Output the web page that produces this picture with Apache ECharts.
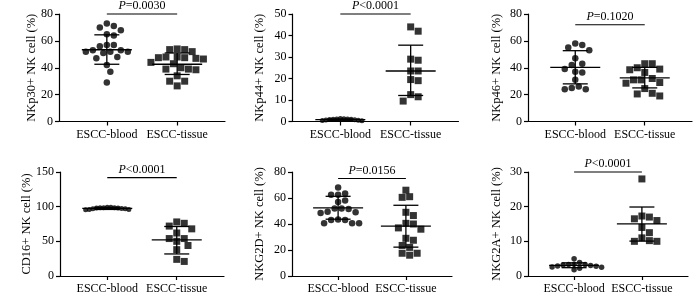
<!DOCTYPE html>
<html>
<head>
<meta charset="utf-8">
<script src="https://cdn.jsdelivr.net/npm/echarts@6/dist/echarts.min.js"></script>
<style>
  html, body { margin: 0; padding: 0; background: #fff; }
  #main { width: 700px; height: 297px; }
</style>
</head>
<body>
<div id="main"></div>
<script>
// groups on the x axis
const groups = ['ESCC-blood', 'ESCC-tissue'];

// axis titles, p values, y ranges
const yNames = ['NKp30+ NK cell (%)', 'NKp44+ NK cell (%)', 'NKp46+ NK cell (%)',
                'CD16+ NK cell (%)', 'NKG2D+ NK cell (%)', 'NKG2A+ NK cell (%)'];
const pLabels = ['P=0.0030', 'P<0.0001', 'P=0.1020', 'P<0.0001', 'P=0.0156', 'P<0.0001'];
const pLevels = [80, 50, 72, 142, 75, 30];
const yMax = [80, 50, 80, 150, 80, 30];
const yStep = [20, 10, 20, 50, 20, 10];

// individual values
const nkp30Blood = [73, 71, 70, 68, 65, 64, 57, 56, 57, 53, 52, 52, 51, 52, 53, 48, 47, 42, 37, 29];
const nkp30Tissue = [54, 53.5, 53.5, 52, 48, 48, 47.5, 47.5, 47, 46.5, 44, 43, 40, 39, 39, 38.5, 34, 30, 30, 26.5];
const nkp44Blood = [1.3, 1.1, 1.2, 0.9, 0.6, 0.4, 0.5, 0.7, 1.0, 1.2, 1.4, 0.8];
const nkp44Tissue = [44, 42, 28.5, 29, 23.5, 23.5, 19, 19.5, 12.5, 11.5, 9.5];
const nkp46Blood = [58, 57, 55, 53, 47, 42, 43, 39, 36.5, 37, 31, 26, 24, 24, 25];
const nkp46Tissue = [43, 43, 39, 38.5, 40, 36.5, 31, 32, 31, 29, 28.5, 24.5, 20.5, 19, 21];
const cd16Blood = [99, 98.5, 98, 98.5, 97.5, 97, 96, 95.5, 96, 97, 98, 98.5, 99];
const cd16Tissue = [78, 76, 68, 72, 62, 54, 54, 50, 44, 38, 21, 24];
const nkg2dBlood = [68, 63.5, 62.5, 62.5, 58, 57, 52, 52, 51.5, 49, 49.5, 48.5, 43, 43, 43.5, 40.5, 40.5, 40.5];
const nkg2dTissue = [66, 61, 60.5, 49, 46.5, 40.5, 40, 37, 36, 29, 27.5, 23.5, 22, 17.5, 16, 17.5];
const nkg2aBlood = [5, 3.9, 3.4, 3.3, 3.2, 3.0, 2.9, 2.8, 2.6, 2.5, 2.2, 1.8, 3.3];
const nkg2aTissue = [28, 17, 17.3, 16, 16.5, 14, 12.5, 11, 10, 10, 10.2];

// mean, mean-SD, mean+SD per group
const nkp30Stats = [[53.4, 42.6, 64.5], [42.6, 35, 51]];
const nkp44Stats = [[0.9, 0.6, 1.2], [23.5, 12.1, 35.5]];
const nkp46Stats = [[40.3, 28, 52.7], [32.4, 25, 40.3]];
const cd16Stats = [[97.5, 96, 99], [52.1, 31.8, 71.4]];
const nkg2dStats = [[52.4, 43.7, 61.3], [38.3, 22.2, 54.4]];
const nkg2aStats = [[3.07, 2.4, 3.8], [15.05, 10.07, 19.9]];

const bloodSets = [nkp30Blood, nkp44Blood, nkp46Blood, cd16Blood, nkg2dBlood, nkg2aBlood];
const tissueSets = [nkp30Tissue, nkp44Tissue, nkp46Tissue, cd16Tissue, nkg2dTissue, nkg2aTissue];
const statSets = [nkp30Stats, nkp44Stats, nkp46Stats, cd16Stats, nkg2dStats, nkg2aStats];

// layout
const grids = [
  {left: 59, top: 14, width: 166, height: 107.5},
  {left: 292.5, top: 14, width: 166, height: 107.5},
  {left: 528, top: 14, width: 164, height: 107.5},
  {left: 60, top: 172, width: 164, height: 104},
  {left: 292, top: 172, width: 160, height: 104},
  {left: 528, top: 172, width: 160, height: 104}
];
const nameGaps = [20.5, 26, 25, 27, 25.5, 25];
const bloodGap = [7, 3.6, 7, 3.6, 7, 5.5];
const bloodSize = [6.5, 5, 6.5, 5, 6.5, 5.5];
const X_MIN = 0.32, X_MAX = 2.68;
const FONT = "'Liberation Serif', 'Times New Roman', serif";

// simple beeswarm: spread points sideways so they don't sit on top of each other
function swarm(vals, cx, pxX, pxY, gap) {
  const placed = [];
  const out = new Array(vals.length);
  const order = vals.map((v, i) => i).sort((a, b) => vals[b] - vals[a]);
  order.forEach(i => {
    const py = vals[i] * pxY;
    for (let k = 0; k < 80; k++) {
      const off = (k % 2 ? 1 : -1) * Math.ceil(k / 2) * gap / 2;
      const ok = placed.every(p => Math.hypot(p[0] - off, p[1] - py) >= gap - 0.01);
      if (ok) {
        placed.push([off, py]);
        out[i] = [cx + off / pxX, vals[i]];
        break;
      }
    }
  });
  return out;
}

const black = '#000';
const xAxes = [], yAxes = [], series = [];

grids.forEach((g, i) => {
  xAxes.push({
    gridIndex: i, type: 'value', min: X_MIN, max: X_MAX,
    splitLine: {show: false},
    axisLine: {show: true, onZero: false, lineStyle: {color: black, width: 1.2}},
    axisTick: {show: true, customValues: [1, 2], length: 4, lineStyle: {color: black, width: 1.2}},
    axisLabel: {
      customValues: [1, 2], margin: 7, color: black, fontSize: 12, fontFamily: FONT,
      formatter: v => groups[Math.round(v) - 1]
    }
  });
  yAxes.push({
    gridIndex: i, type: 'value', min: 0, max: yMax[i], interval: yStep[i],
    splitLine: {show: false},
    axisLine: {show: true, onZero: false, lineStyle: {color: black, width: 1.2}},
    axisTick: {show: true, length: 4, lineStyle: {color: black, width: 1.2}},
    axisLabel: {margin: 6, color: black, fontSize: 12, fontFamily: FONT},
    name: yNames[i], nameLocation: 'middle', nameGap: nameGaps[i],
    nameMoveOverlap: false,
    nameTextStyle: {color: black, fontSize: 12.5, fontFamily: FONT}
  });

  const pxX = g.width / (X_MAX - X_MIN);
  const pxY = g.height / yMax[i];

  series.push({
    type: 'scatter', xAxisIndex: i, yAxisIndex: i,
    symbol: 'circle', symbolSize: bloodSize[i],
    itemStyle: {color: black},
    data: swarm(bloodSets[i], 1, pxX, pxY, bloodGap[i])
  });
  series.push({
    type: 'scatter', xAxisIndex: i, yAxisIndex: i,
    symbol: 'rect', symbolSize: 7,
    itemStyle: {color: black},
    data: swarm(tissueSets[i], 2, pxX, pxY, 7.5)
  });
  // mean +/- SD
  series.push({
    type: 'custom', xAxisIndex: i, yAxisIndex: i, z: 5,
    data: statSets[i].map((s, k) => [k + 1, s[0], s[1], s[2]]),
    renderItem: (params, api) => {
      const x = api.value(0);
      const m = api.coord([x, api.value(1)]);
      const lo = api.coord([x, api.value(2)]);
      const hi = api.coord([x, api.value(3)]);
      const st = {stroke: black, lineWidth: 1.3};
      return {type: 'group', children: [
        {type: 'line', shape: {x1: m[0] - 25, y1: m[1], x2: m[0] + 25, y2: m[1]}, style: st},
        {type: 'line', shape: {x1: m[0], y1: lo[1], x2: m[0], y2: hi[1]}, style: st},
        {type: 'line', shape: {x1: m[0] - 12.5, y1: lo[1], x2: m[0] + 12.5, y2: lo[1]}, style: st},
        {type: 'line', shape: {x1: m[0] - 12.5, y1: hi[1], x2: m[0] + 12.5, y2: hi[1]}, style: st}
      ]};
    }
  });
  // significance bar
  series.push({
    type: 'custom', xAxisIndex: i, yAxisIndex: i, z: 5, clip: false,
    data: [[1, pLevels[i], 2]],
    renderItem: (params, api) => {
      const a = api.coord([api.value(0), api.value(1)]);
      const b = api.coord([api.value(2), api.value(1)]);
      const lab = pLabels[i];
      return {type: 'group', children: [
        {type: 'line', shape: {x1: a[0], y1: a[1], x2: b[0], y2: b[1]},
         style: {stroke: black, lineWidth: 1.2}},
        {type: 'text', x: (a[0] + b[0]) / 2, y: a[1] - 2,
         style: {
           text: '{i|' + lab.charAt(0) + '}{n|' + lab.slice(1) + '}',
           align: 'center', verticalAlign: 'bottom',
           fontSize: 12, fontFamily: FONT, fill: black,
           rich: {
             i: {fontStyle: 'italic', fontSize: 12, fontFamily: FONT, fill: black},
             n: {fontSize: 12, fontFamily: FONT, fill: black}
           }
         }}
      ]};
    }
  });
});

const chart = echarts.init(document.getElementById('main'), null, {renderer: 'canvas'});
chart.setOption({
  backgroundColor: '#fff',
  animation: false,
  grid: grids,
  xAxis: xAxes,
  yAxis: yAxes,
  series: series
});
</script>
</body>
</html>
